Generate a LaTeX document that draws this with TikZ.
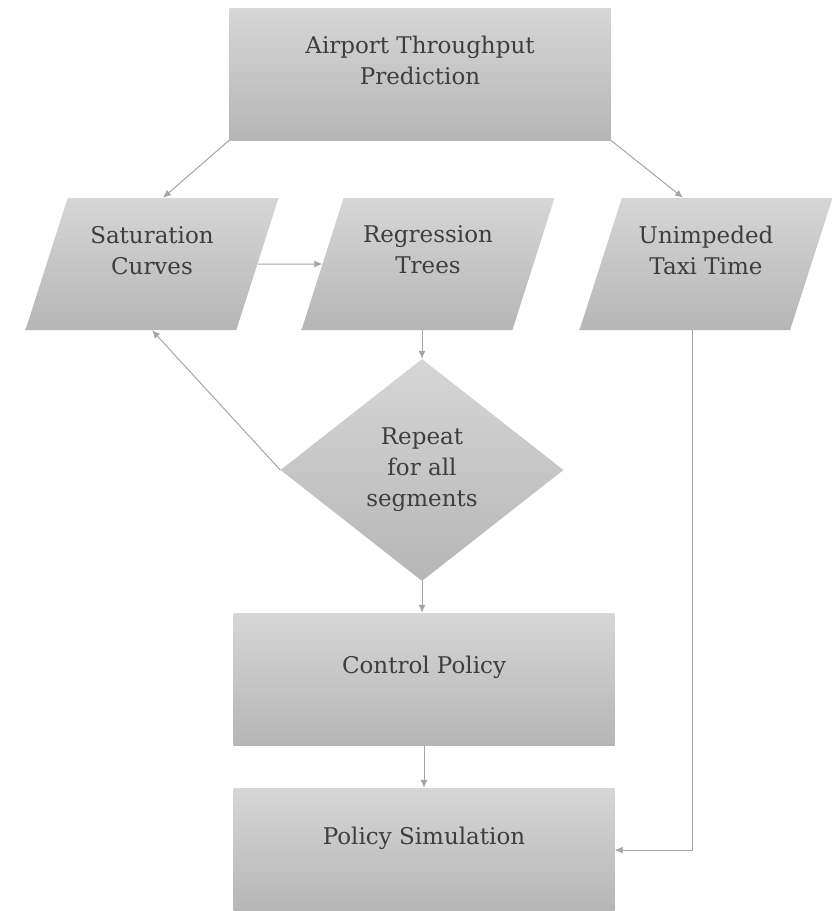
\documentclass[tikz,border=0pt]{standalone}
\usepackage{fontspec}
\setmainfont{DejaVu Serif}
\usetikzlibrary{arrows.meta, calc, positioning, shapes.geometric}

\definecolor{boxtop}{RGB}{214,214,214}
\definecolor{boxbot}{RGB}{182,182,182}
\definecolor{txtgray}{RGB}{62,62,62}
\definecolor{arrgray}{RGB}{165,165,165}

\tikzset{
  base/.style={top color=boxtop, bottom color=boxbot, draw=none, text=txtgray,
    align=center, font=\fontsize{23}{31}\selectfont},
  block/.style={base, rectangle, minimum width=381pt, minimum height=132pt, text depth=28pt},
  data/.style={base, trapezium, trapezium left angle=61, trapezium right angle=119,
    trapezium stretches body, minimum width=253pt, minimum height=132pt, inner sep=0pt,
    text depth=28pt},
  decision/.style={base, diamond, aspect=1.27, minimum width=283pt, minimum height=222pt,
    inner sep=0pt},
  flow/.style={->, draw=arrgray, line width=1pt}
}

\begin{document}
\begin{tikzpicture}[>={Latex[length=8pt, width=7pt]}, x=1pt, y=-1pt]

  \useasboundingbox (0,0) rectangle (838,911);

  \node[block] (thru) at (420,74) {Airport Throughput\\Prediction};

  \node[data] (sat) at (152,264) {Saturation\\Curves};
  \node[data] (reg) at (428,264) {Regression\\Trees};
  \node[data] (taxi) at (706,264) {Unimpeded\\Taxi Time};

  \node[decision] (rep) at (422,470) {Repeat\\for all\\segments};

  \node[block] (ctrl) at (424,679) {Control Policy};
  \node[block, minimum height=124pt] (sim) at (424,850) {Policy Simulation};

  \draw[flow] (thru.south west) -- ($(sat.north)+(11,0)$);
  \draw[flow] (thru.south east) -- ($(taxi.north)+(-23,0)$);
  \draw[flow] (sat.east) -- (reg.west);
  \draw[flow] (reg.south -| rep.north) -- (rep.north);
  \draw[flow] (rep.west) -- (sat.south);
  \draw[flow] (rep.south) -- (rep.south |- ctrl.north);
  \draw[flow] (ctrl.south) -- (sim.north);
  \draw[flow] ($(taxi.south)+(-14,0)$) |- (sim.east);

\end{tikzpicture}
\end{document}
